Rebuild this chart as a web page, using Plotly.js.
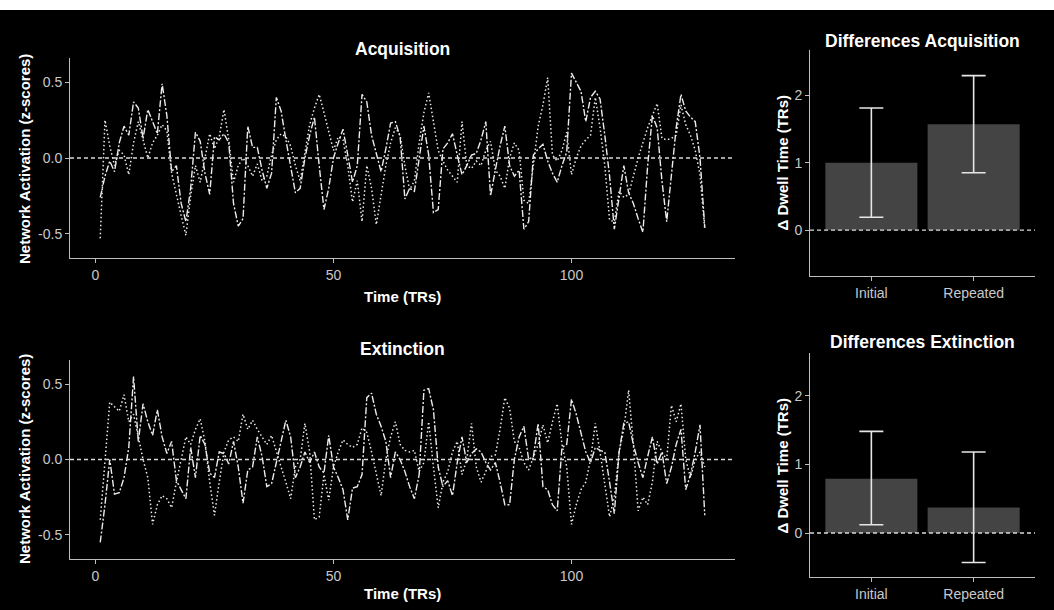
<!DOCTYPE html>
<html>
<head>
<meta charset="utf-8">
<script src="https://cdn.plot.ly/plotly-3.0.1.min.js"></script>
<style>
html,body{margin:0;padding:0;background:#000;}
#chart{width:1054px;height:610px;}
</style>
</head>
<body>
<div id="chart"></div>
<script>
// ---- Data ----
const acqDashDot = [
 -0.26,-0.12,-0.02,-0.09,0.10,0.21,0.15,0.37,0.33,0.13,
 0.32,0.24,0.16,0.49,0.28,-0.09,-0.05,-0.30,-0.42,-0.20,
 0.17,0.11,-0.10,-0.24,0.14,0.12,0.16,0.10,-0.30,-0.45,
 -0.40,0.21,0.07,0.07,-0.08,-0.20,-0.10,0.40,0.31,0.12,
 -0.07,-0.23,-0.20,0.00,0.15,0.27,-0.05,-0.34,-0.20,0.00,
 0.10,0.19,0.02,-0.16,-0.05,0.42,0.37,0.15,0.03,-0.09,
 0.06,0.23,0.24,0.14,-0.27,-0.20,-0.22,0.00,0.21,0.02,
 -0.36,-0.34,0.06,0.10,0.16,0.02,-0.11,-0.05,0.02,0.03,
 0.12,0.24,-0.25,-0.08,0.08,0.21,-0.05,-0.12,-0.08,-0.47,
 -0.42,0.02,0.06,0.09,-0.02,-0.10,-0.16,-0.05,0.04,0.56,
 0.50,0.44,0.24,0.40,0.44,0.39,0.15,-0.12,-0.47,-0.25,
 -0.05,-0.23,-0.30,-0.40,-0.49,-0.05,0.28,0.20,-0.15,-0.42,
 -0.10,0.20,0.42,0.31,0.27,0.24,0.00,-0.46];
const acqDotted = [
 -0.53,0.25,0.08,-0.05,0.05,0.02,-0.11,0.10,0.24,0.12,
 0.00,0.10,0.15,0.22,0.18,-0.10,-0.25,-0.38,-0.51,-0.25,
 -0.05,-0.16,0.00,0.16,0.06,0.14,0.32,0.12,-0.16,-0.05,
 0.00,-0.05,-0.12,-0.04,-0.15,-0.12,0.02,0.12,0.16,0.14,
 0.08,-0.05,-0.15,0.05,0.22,0.33,0.42,0.30,0.17,0.05,
 0.14,0.12,-0.05,-0.29,-0.15,-0.42,-0.05,-0.20,-0.44,-0.25,
 -0.05,0.10,0.20,0.15,-0.05,-0.21,-0.15,0.10,0.30,0.43,
 0.25,0.05,-0.02,-0.08,-0.12,-0.16,0.24,-0.05,-0.07,-0.02,
 -0.05,0.05,0.11,-0.08,-0.12,-0.20,0.00,0.10,0.05,-0.28,
 -0.30,-0.05,0.21,0.35,0.53,0.02,-0.02,0.05,0.17,-0.11,
 0.00,0.08,0.12,0.15,0.40,0.20,-0.05,-0.41,-0.42,-0.22,
 -0.26,-0.24,-0.12,0.00,0.10,0.20,0.28,0.36,0.13,0.12,
 0.13,0.15,0.35,0.22,0.15,0.05,-0.11,-0.47];
const extDashDot = [
 -0.55,-0.30,0.00,-0.23,-0.22,-0.12,0.08,0.55,0.12,0.37,
 0.25,0.16,0.33,0.15,0.04,0.12,-0.14,-0.20,-0.26,0.08,
 -0.12,0.16,0.10,-0.09,-0.12,0.05,0.04,-0.03,0.12,-0.05,
 -0.29,-0.07,-0.05,0.15,0.02,-0.18,-0.16,-0.02,0.12,0.26,
 0.15,-0.12,-0.05,0.05,-0.02,0.05,-0.05,-0.09,0.16,-0.05,
 -0.12,-0.20,-0.40,-0.19,-0.18,-0.10,0.41,0.44,0.30,0.22,
 0.12,-0.12,0.05,0.00,-0.08,-0.18,-0.26,-0.10,0.46,0.47,
 0.33,-0.05,-0.18,-0.14,-0.24,-0.02,0.15,-0.02,0.04,0.07,
 0.05,-0.02,-0.07,-0.02,-0.15,-0.30,-0.30,0.00,0.15,0.22,
 0.00,0.02,0.24,-0.18,-0.20,-0.30,-0.34,0.08,0.10,0.40,
 0.30,0.18,0.05,-0.02,0.08,0.06,0.05,-0.15,-0.36,0.05,
 0.24,0.25,0.10,-0.02,-0.12,0.02,0.15,-0.03,0.05,-0.16,
 -0.05,0.10,0.20,-0.20,-0.10,0.05,0.23,-0.37];
const extDotted = [
 -0.40,0.00,0.38,0.35,0.32,0.43,0.25,0.30,0.15,0.00,
 -0.12,-0.43,-0.30,-0.24,-0.26,-0.32,-0.15,0.00,0.15,0.10,
 0.20,0.27,0.12,-0.15,-0.37,-0.15,0.05,0.13,0.15,0.12,
 0.30,0.20,0.26,0.20,0.15,0.10,0.16,0.05,-0.05,-0.15,
 -0.26,-0.05,0.00,0.24,0.05,-0.40,-0.38,-0.10,-0.27,-0.05,
 0.05,0.13,0.10,0.08,0.10,0.21,0.18,0.05,-0.10,-0.24,
 0.00,0.15,0.25,0.10,0.06,0.05,0.06,-0.08,-0.02,0.25,
 -0.05,-0.32,-0.15,-0.08,0.05,0.12,-0.10,0.00,0.24,-0.05,
 -0.15,-0.08,0.02,0.03,0.20,0.41,0.34,0.12,0.08,-0.02,
 -0.07,0.02,0.10,0.23,0.11,0.25,0.37,0.10,-0.05,-0.43,
 -0.30,-0.20,-0.15,0.00,0.24,0.05,-0.15,-0.38,-0.25,0.05,
 0.20,0.46,0.10,-0.34,-0.25,-0.30,-0.15,0.12,0.05,0.00,
 0.36,0.25,0.37,0.00,-0.12,0.00,0.05,-0.05];

const barCategories = ['Initial', 'Repeated'];
const acqDiff = [1.00, 1.57];
const acqDiffLow = [0.19, 0.85];
const acqDiffHigh = [1.81, 2.29];
const extDiff = [0.79, 0.37];
const extDiffLow = [0.12, -0.43];
const extDiffHigh = [1.48, 1.18];

const timeTicks = [0, 50, 100];
const zTicks = [-0.5, 0, 0.5];
const zTickText = ['-0.5', '0.0', '0.5'];
const dwellTicks = [0, 1, 2];

// ---- Build ----
const timeIdx = acqDashDot.map((_, i) => i + 1);
const FONT = 'Liberation Sans, Arial, sans-serif';
const LINEC = '#ececec';
const AXC = '#bdbdbd';
const TICKC = '#c9c9c9';

function lineTrace(y, xa, ya, dash, w) {
  return {x: timeIdx, y: y, xaxis: xa, yaxis: ya, type: 'scatter', mode: 'lines',
    line: {color: LINEC, width: w, dash: dash}, hoverinfo: 'skip', showlegend: false};
}
function barTrace(vals, lo, hi, xa, ya) {
  return {x: barCategories, y: vals, xaxis: xa, yaxis: ya, type: 'bar', width: 0.9,
    marker: {color: '#444444', line: {width: 0}},
    error_y: {type: 'data', symmetric: false,
      array: vals.map((v, i) => hi[i] - v), arrayminus: vals.map((v, i) => v - lo[i]),
      color: '#e6e6e6', thickness: 1.6, width: 12},
    hoverinfo: 'skip', showlegend: false};
}

const DOTS = '1.5px,2.5px';
const DASHDOT = '7px,2px,2px,2px';
const data = [
  lineTrace(acqDotted, 'x', 'y', DOTS, 1.5),
  lineTrace(acqDashDot, 'x', 'y', DASHDOT, 1.4),
  barTrace(acqDiff, acqDiffLow, acqDiffHigh, 'x2', 'y2'),
  lineTrace(extDotted, 'x3', 'y3', DOTS, 1.5),
  lineTrace(extDashDot, 'x3', 'y3', DASHDOT, 1.4),
  barTrace(extDiff, extDiffLow, extDiffHigh, 'x4', 'y4')
];

const H = 610, W = 1054;
function px(a, b) { return [a / W, b / W]; }
function py(top, bottom) { return [1 - bottom / H, 1 - top / H]; }

const baseAxis = {
  showline: true, linecolor: AXC, linewidth: 1, ticks: 'outside', ticklen: 4,
  tickcolor: AXC, tickwidth: 1, showgrid: false, zeroline: false,
  tickfont: {family: FONT, size: 14, color: TICKC}, fixedrange: true
};
function ax(extra) { return Object.assign({}, baseAxis, extra); }

const layout = {
  width: W, height: H,
  margin: {l: 0, r: 0, t: 0, b: 0},
  paper_bgcolor: '#000', plot_bgcolor: '#000',
  font: {family: FONT, color: '#fff'},
  showlegend: false, bargap: 0.1,
  xaxis: ax({domain: px(70, 735), range: [-5.35, 134.35], tickvals: timeTicks, anchor: 'y'}),
  yaxis: ax({domain: py(58, 258), range: [-0.66, 0.66], tickvals: zTicks, ticktext: zTickText, anchor: 'x'}),
  xaxis2: ax({domain: px(810, 1035), range: [-0.6, 1.6], type: 'category', anchor: 'y2'}),
  yaxis2: ax({domain: py(50, 276), range: [-0.68, 2.67], tickvals: dwellTicks, anchor: 'x2'}),
  xaxis3: ax({domain: px(70, 735), range: [-5.35, 134.35], tickvals: timeTicks, anchor: 'y3'}),
  yaxis3: ax({domain: py(360, 559), range: [-0.66, 0.66], tickvals: zTicks, ticktext: zTickText, anchor: 'x3'}),
  xaxis4: ax({domain: px(810, 1035), range: [-0.6, 1.6], type: 'category', anchor: 'y4'}),
  yaxis4: ax({domain: py(353, 577), range: [-0.64, 2.62], tickvals: dwellTicks, anchor: 'x4'}),
  shapes: [
    {type: 'rect', xref: 'paper', yref: 'paper', x0: 0, x1: 1, y0: 1 - 10 / H, y1: 1,
      fillcolor: '#ffffff', line: {width: 0}},
    ...[['x', 'y'], ['x2', 'y2'], ['x3', 'y3'], ['x4', 'y4']].map(([xa, ya]) => ({
      type: 'line', xref: xa + ' domain', yref: ya, x0: 0, x1: 1, y0: 0, y1: 0,
      line: {color: '#d9d9d9', width: 1.3, dash: '4px,3px'}, layer: 'above'}))
  ],
  annotations: []
};

function ann(text, x, y, size, angle) {
  return {text: '<b>' + text + '</b>', xref: 'paper', yref: 'paper', x: x / W, y: 1 - y / H,
    xanchor: 'center', yanchor: 'middle', showarrow: false, textangle: angle || 0,
    font: {family: FONT, size: size, color: '#ffffff'}};
}
layout.annotations.push(
  ann('Acquisition', 402, 48.5, 17.5),
  ann('Differences Acquisition', 922, 41, 17.5),
  ann('Extinction', 402, 349, 17.5),
  ann('Differences Extinction', 922, 342, 17.5),
  ann('Time (TRs)', 402, 296, 15),
  ann('Time (TRs)', 402, 593, 15),
  ann('Network Activation (z-scores)', 24, 159, 15, -90),
  ann('Network Activation (z-scores)', 24, 459, 15, -90),
  ann('Δ Dwell Time (TRs)', 781.5, 163, 15, -90),
  ann('Δ Dwell Time (TRs)', 781.5, 466, 15, -90)
);

Plotly.newPlot('chart', data, layout, {displayModeBar: false, staticPlot: true});
</script>
</body>
</html>
